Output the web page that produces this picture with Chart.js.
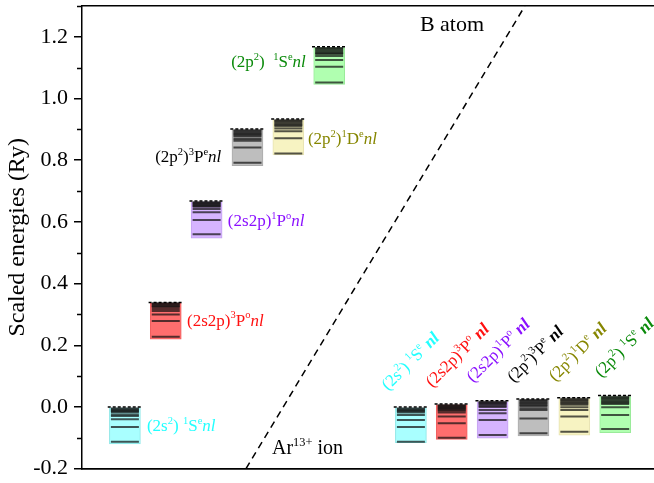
<!DOCTYPE html>
<html>
<head>
<meta charset="utf-8">
<script src="https://cdn.jsdelivr.net/npm/chart.js@4.4.0/dist/chart.umd.min.js"></script>
<style>
  html, body { margin: 0; padding: 0; background: #ffffff; }
  canvas { display: block; }
</style>
</head>
<body>
<canvas id="chart" width="654" height="483"></canvas>
<script>
// Resonance series, B atom (left group) and Ar13+ ion (right group)
const seriesLabels = [
  '(2s^2) ^1S^e*nl*', '(2s2p)^3P^o*nl*', '(2s2p)^1P^o*nl*',
  '(2p^2)^3P^e*nl*', '(2p^2)^1D^e*nl*', '(2p^2)  ^1S^e*nl*',
  '(2s^2) ^1S^e *nl*', '(2s2p)^3P^o *nl*', '(2s2p)^1P^o *nl*',
  '(2p^2)^3P^e *nl*', '(2p^2)^1D^e *nl*', '(2p^2) ^1S^e *nl*'
];
const blockX = [1, 2, 3, 4, 5, 6, 8, 9, 10, 11, 12, 13];

// series limits (Ry)
const thresholds   = [0.000, 0.339, 0.668, 0.901, 0.934, 1.168, 0.000, 0.010, 0.020, 0.026, 0.030, 0.037];
const blockTops    = [-0.003, 0.336, 0.665, 0.898, 0.931, 1.165, -0.003, 0.007, 0.017, 0.023, 0.027, 0.034];
const blockBottoms = [-0.120, 0.220, 0.547, 0.782, 0.817, 1.046, -0.116, -0.105, -0.101, -0.094, -0.091, -0.083];

// resonance levels of each series (Ry)
const levelsB1Se = [-0.005, -0.008, -0.011, -0.014, -0.017, -0.024, -0.029, -0.040, -0.065, -0.113];
const levelsB3Po = [0.336, 0.333, 0.330, 0.327, 0.324, 0.318, 0.311, 0.300, 0.279, 0.228];
const levelsB1Po = [0.664, 0.661, 0.658, 0.655, 0.652, 0.649, 0.642, 0.631, 0.606, 0.560];
const levelsB3Pe = [0.897, 0.893, 0.889, 0.885, 0.881, 0.877, 0.869, 0.863, 0.841, 0.792];
const levelsB1De = [0.930, 0.926, 0.922, 0.918, 0.914, 0.910, 0.903, 0.894, 0.871, 0.822];
const levelsB1Sp = [1.164, 1.160, 1.156, 1.152, 1.148, 1.144, 1.138, 1.125, 1.103, 1.052];
const levelsAr1Se = [-0.005, -0.008, -0.011, -0.014, -0.018, -0.026, -0.042, -0.065, -0.113];
const levelsAr3Po = [0.006, 0.003, 0.000, -0.003, -0.006, -0.009, -0.012, -0.018, -0.031, -0.053, -0.100];
const levelsAr1Po = [0.017, 0.014, 0.011, 0.008, 0.004, 0.000, -0.010, -0.020, -0.042, -0.091];
const levelsAr3Pe = [0.023, 0.019, 0.015, 0.011, 0.007, 0.003, -0.004, -0.010, -0.037, -0.085];
const levelsAr1De = [0.027, 0.023, 0.019, 0.015, 0.011, 0.007, -0.001, -0.010, -0.031, -0.080];
const levelsAr1Sp = [0.033, 0.029, 0.025, 0.021, 0.017, 0.014, 0.010, -0.001, -0.026, -0.071];
const levels = [levelsB1Se, levelsB3Po, levelsB1Po, levelsB3Pe, levelsB1De, levelsB1Sp,
                levelsAr1Se, levelsAr3Po, levelsAr1Po, levelsAr3Pe, levelsAr1De, levelsAr1Sp];

// B atom / Ar13+ ion separator
const separatorX = [3.964, 10.79];
const separatorY = [-0.2, 1.3];

const yTickMin = -0.2, yTickMax = 1.3, yTickStep = 0.1;

// ---- styles ----
const fillColors = ['#a9ffff', '#ff6e6e', '#d6b4ff', '#bebebe', '#f7f3c2', '#b0ffb0'];
const edgeColors = ['#8ae6e6', '#f06060', '#c4a2f0', '#ababab', '#e6e2b2', '#9aeb9a'];
const textColors = ['#22ffff', '#ff1010', '#8a10ff', '#000000', '#868600', '#0a8a0a'];
const FONT = '"Liberation Serif", "Times New Roman", serif';

// text anchors in data coordinates (left end of the baseline)
const labelAnchors = [
  { x: 1.54, y: -0.078, rot: 0 }, { x: 2.52, y: 0.264, rot: 0 }, { x: 3.52, y: 0.587, rot: 0 },
  { x: 1.74, y: 0.795, rot: 0 },  { x: 5.48, y: 0.852, rot: 0 }, { x: 3.60, y: 1.103, rot: 0 },
  { x: 7.44, y: 0.052, rot: -45 }, { x: 8.52, y: 0.062, rot: -45 }, { x: 9.52, y: 0.078, rot: -45 },
  { x: 10.52, y: 0.078, rot: -45 }, { x: 11.53, y: 0.081, rot: -45 }, { x: 12.66, y: 0.094, rot: -45 }
];
const extraTexts = [
  { text: 'B atom', x: 8.22, y: 1.219, size: 22 },
  { text: 'Ar^{13+} ion', x: 4.60, y: -0.153, size: 20 }
];

function parseRich(str) {
  const out = [];
  let buf = '', ital = false;
  const flush = () => { if (buf) { out.push({ t: buf, sup: false, it: ital }); buf = ''; } };
  for (let i = 0; i < str.length; i++) {
    const ch = str[i];
    if (ch === '^') {
      flush();
      let t;
      if (str[i + 1] === '{') { const j = str.indexOf('}', i); t = str.slice(i + 2, j); i = j; }
      else { t = str[i + 1]; i++; }
      out.push({ t, sup: true, it: ital });
    } else if (ch === '*') {
      flush(); ital = !ital;
    } else buf += ch;
  }
  flush();
  return out;
}

function drawRich(ctx, str, x, y, size, color, rotDeg, boldItalic) {
  ctx.save();
  ctx.translate(x, y);
  ctx.rotate((rotDeg || 0) * Math.PI / 180);
  ctx.fillStyle = color;
  ctx.textAlign = 'left';
  ctx.textBaseline = 'alphabetic';
  let cx = 0;
  for (const s of parseRich(str)) {
    const fs = s.sup ? size * 0.62 : size;
    ctx.font = (s.it ? (boldItalic ? 'italic bold ' : 'italic ') : '') + fs + 'px ' + FONT;
    ctx.fillText(s.t, cx, s.sup ? -size * 0.42 : 0);
    cx += ctx.measureText(s.t).width;
  }
  ctx.restore();
}

const isMajor = v => Math.abs(v * 5 - Math.round(v * 5)) < 1e-6;

// the frame sits exactly on the layout padding, so drop the label overhang
function noOverhang(s) {
  s.paddingTop = 0; s.paddingBottom = 0; s.paddingLeft = 0; s.paddingRight = 0;
}

const textPlugin = {
  id: 'seriesText',
  afterDatasetsDraw(chart) {
    const { ctx, scales: { x, y } } = chart;
    seriesLabels.forEach((s, i) => {
      const a = labelAnchors[i];
      drawRich(ctx, s, x.getPixelForValue(a.x), y.getPixelForValue(a.y), 17, textColors[i % 6], a.rot, a.rot !== 0);
    });
    extraTexts.forEach(t => {
      drawRich(ctx, t.text, x.getPixelForValue(t.x), y.getPixelForValue(t.y), t.size, '#000000', 0, false);
    });
  },
  afterDraw(chart) {
    // minor ticks on the energy axis
    const { ctx, scales: { y } } = chart;
    ctx.save();
    ctx.strokeStyle = '#000';
    ctx.lineWidth = 1.5;
    y.ticks.forEach(t => {
      if (isMajor(t.value)) return;
      const py = Math.round(y.getPixelForValue(t.value)) + 0.5;
      ctx.beginPath();
      ctx.moveTo(y.right - 5, py);
      ctx.lineTo(y.right, py);
      ctx.stroke();
    });
    ctx.restore();
  }
};

const barData = blockX.map((bx, i) => ({ x: bx, y: [blockBottoms[i], blockTops[i]] }));
const levelData = [];
levels.forEach((arr, i) => arr.forEach(v => levelData.push({ x: blockX[i], y: v })));
const thresholdData = [];
thresholds.forEach((t, i) => {
  thresholdData.push({ x: blockX[i] - 0.42, y: t }, { x: blockX[i] + 0.42, y: t }, { x: blockX[i] + 0.5, y: null });
});
const separatorData = separatorX.map((v, i) => ({ x: v, y: separatorY[i] }));

new Chart(document.getElementById('chart'), {
  type: 'scatter',
  data: {
    datasets: [
      {
        type: 'bar', data: barData, order: 4,
        backgroundColor: blockX.map((_, i) => fillColors[i % 6]),
        borderColor: blockX.map((_, i) => edgeColors[i % 6]),
        borderWidth: 1, borderSkipped: false, barThickness: 31
      },
      {
        type: 'scatter', data: levelData, order: 3,
        pointStyle: 'line', pointRadius: 14, pointBorderWidth: 2,
        pointBorderColor: 'rgba(20,20,20,0.72)', showLine: false
      },
      {
        type: 'line', data: thresholdData, order: 2, showLine: true, spanGaps: false,
        borderColor: '#000', borderWidth: 1.5, borderDash: [3, 2], pointRadius: 0, fill: false
      },
      {
        type: 'line', data: separatorData, order: 1, showLine: true,
        borderColor: '#000', borderWidth: 1.5, borderDash: [7, 5], pointRadius: 0, fill: false
      }
    ]
  },
  options: {
    responsive: false,
    devicePixelRatio: 1,
    animation: false,
    events: [],
    layout: { autoPadding: false, padding: { left: 0, right: 0, top: 6, bottom: 0 } },
    plugins: { legend: { display: false }, tooltip: { enabled: false } },
    scales: {
      x: {
        type: 'linear', position: 'bottom', min: -0.05, max: 13.95, offset: false,
        grid: { display: false, drawTicks: false },
        ticks: { display: false },
        border: { display: true, color: '#000', width: 1.8 },
        afterFit(s) { s.height = 14.3; noOverhang(s); }
      },
      x2: {
        type: 'linear', position: 'top', min: -0.05, max: 13.95, offset: false,
        grid: { display: false, drawTicks: false },
        ticks: { display: false },
        border: { display: true, color: '#000', width: 1.5 },
        afterFit(s) { s.height = 0; noOverhang(s); }
      },
      y: {
        type: 'linear', position: 'left', min: yTickMin, max: yTickMax,
        grid: {
          drawOnChartArea: false, drawTicks: true, tickLength: 8, lineWidth: 1.5,
          tickColor: c => (c.tick && isMajor(c.tick.value)) ? '#000' : 'rgba(0,0,0,0)'
        },
        border: { display: true, color: '#000', width: 1.5 },
        ticks: {
          stepSize: yTickStep, padding: 6, color: '#000',
          font: { family: FONT, size: 22 },
          callback: v => isMajor(v) ? v.toFixed(1) : ''
        },
        title: {
          display: true, text: 'Scaled energies (Ry)', color: '#000',
          font: { family: FONT, size: 24 }, padding: { top: 3, bottom: 0 }
        },
        afterFit(s) { s.width = 82; noOverhang(s); }
      }
    }
  },
  plugins: [textPlugin]
});
</script>
</body>
</html>
